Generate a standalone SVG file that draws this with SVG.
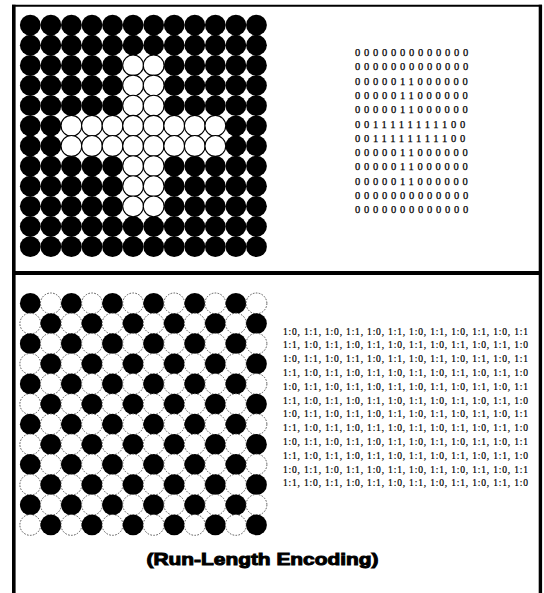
<svg xmlns="http://www.w3.org/2000/svg" xmlns:xlink="http://www.w3.org/1999/xlink" width="544" height="593" viewBox="0 0 544 593">
<style>
.frame{stroke:#000;fill:none}
.blk{fill:#000}
.wht{fill:#fff;stroke:#000;stroke-width:1.1}
.whd{fill:#fff;stroke:#555;stroke-width:1;stroke-dasharray:1.6 1.4}
.bin{font-family:"Liberation Serif","Times New Roman",serif;font-size:10.5px;letter-spacing:3.75px;fill:#000;stroke:#000;stroke-width:0.25px}
.rle{font-family:"Liberation Serif","Times New Roman",serif;font-size:9.5px;fill:#000;stroke:#000;stroke-width:0.2px}
.title{font-family:"Liberation Sans",Arial,sans-serif;font-weight:bold;font-size:17px;fill:#000;stroke:#000;stroke-width:1px}
</style>
<defs>
<circle id="cb" r="10.4" class="blk"/>
<circle id="cw" r="10.4" class="wht"/>
<circle id="cd" r="10.4" class="whd"/>
<g id="rowB">
<use href="#cb" x="0"/><use href="#cb" x="20.56"/><use href="#cb" x="41.12"/><use href="#cb" x="61.68"/><use href="#cb" x="82.24"/><use href="#cb" x="102.8"/><use href="#cb" x="123.36"/><use href="#cb" x="143.92"/><use href="#cb" x="164.48"/><use href="#cb" x="185.04"/><use href="#cb" x="205.6"/><use href="#cb" x="226.16"/>
</g>
<g id="pairW"><use href="#cw" x="0"/><use href="#cw" x="20.56"/></g>
<g id="armW">
<use href="#cw" x="0"/><use href="#cw" x="20.56"/><use href="#cw" x="41.12"/><use href="#cw" x="61.68"/><use href="#cw" x="82.24"/><use href="#cw" x="102.8"/><use href="#cw" x="123.36"/><use href="#cw" x="143.92"/>
</g>
<g id="rowA">
<use href="#cb" x="0"/><use href="#cd" x="20.56"/><use href="#cb" x="41.12"/><use href="#cd" x="61.68"/><use href="#cb" x="82.24"/><use href="#cd" x="102.8"/><use href="#cb" x="123.36"/><use href="#cd" x="143.92"/><use href="#cb" x="164.48"/><use href="#cd" x="185.04"/><use href="#cb" x="205.6"/><use href="#cd" x="226.16"/>
</g>
<g id="rowC">
<use href="#cd" x="0"/><use href="#cb" x="20.56"/><use href="#cd" x="41.12"/><use href="#cb" x="61.68"/><use href="#cd" x="82.24"/><use href="#cb" x="102.8"/><use href="#cd" x="123.36"/><use href="#cb" x="143.92"/><use href="#cd" x="164.48"/><use href="#cb" x="185.04"/><use href="#cd" x="205.6"/><use href="#cb" x="226.16"/>
</g>
</defs>
<rect width="544" height="593" fill="#fff"/>
<g id="frame" class="frame">
<line x1="12" y1="5.7" x2="542" y2="5.7" stroke-width="2"/>
<line x1="13.8" y1="4.7" x2="13.8" y2="593" stroke-width="3.6"/>
<line x1="540.4" y1="4.7" x2="540.4" y2="593" stroke-width="3.4"/>
<line x1="12" y1="273" x2="542" y2="273" stroke-width="4"/>
</g>
<g id="connectors"/>
<g id="cross-grid">
<use href="#rowB" x="30.3" y="25.1"/>
<use href="#rowB" x="30.3" y="45.24"/>
<use href="#rowB" x="30.3" y="65.38"/>
<use href="#rowB" x="30.3" y="85.52"/>
<use href="#rowB" x="30.3" y="105.66"/>
<use href="#rowB" x="30.3" y="125.8"/>
<use href="#rowB" x="30.3" y="145.94"/>
<use href="#rowB" x="30.3" y="166.08"/>
<use href="#rowB" x="30.3" y="186.22"/>
<use href="#rowB" x="30.3" y="206.36"/>
<use href="#rowB" x="30.3" y="226.5"/>
<use href="#rowB" x="30.3" y="246.64"/>
<use href="#pairW" x="133.1" y="65.38"/>
<use href="#pairW" x="133.1" y="85.52"/>
<use href="#pairW" x="133.1" y="105.66"/>
<use href="#armW" x="71.42" y="125.8"/>
<use href="#armW" x="71.42" y="145.94"/>
<use href="#pairW" x="133.1" y="166.08"/>
<use href="#pairW" x="133.1" y="186.22"/>
<use href="#pairW" x="133.1" y="206.36"/>
</g>
<g id="binary-matrix" class="bin">
<text x="355" y="56">0000000000000</text>
<text x="355" y="70.3">0000000000000</text>
<text x="355" y="84.6">0000011000000</text>
<text x="355" y="98.9">0000011000000</text>
<text x="355" y="113.2">0000011000000</text>
<text x="355" y="127.5">0011111111100</text>
<text x="355" y="141.8">0011111111100</text>
<text x="355" y="156.1">0000011000000</text>
<text x="355" y="170.4">0000011000000</text>
<text x="355" y="184.7">0000011000000</text>
<text x="355" y="199">0000000000000</text>
<text x="355" y="213.3">0000000000000</text>
</g>
<g id="checker-grid">
<use href="#rowA" x="30.3" y="303.4"/>
<use href="#rowC" x="30.3" y="323.54"/>
<use href="#rowA" x="30.3" y="343.68"/>
<use href="#rowC" x="30.3" y="363.82"/>
<use href="#rowA" x="30.3" y="383.96"/>
<use href="#rowC" x="30.3" y="404.1"/>
<use href="#rowA" x="30.3" y="424.24"/>
<use href="#rowC" x="30.3" y="444.38"/>
<use href="#rowA" x="30.3" y="464.52"/>
<use href="#rowC" x="30.3" y="484.66"/>
<use href="#rowA" x="30.3" y="504.8"/>
<use href="#rowC" x="30.3" y="524.94"/>
</g>
<g id="rle-text" class="rle">
<text x="283" y="334.5" textLength="245">1:0, 1:1, 1:0, 1:1, 1:0, 1:1, 1:0, 1:1, 1:0, 1:1, 1:0, 1:1</text>
<text x="283" y="348.3" textLength="245">1:1, 1:0, 1:1, 1:0, 1:1, 1:0, 1:1, 1:0, 1:1, 1:0, 1:1, 1:0</text>
<text x="283" y="362.1" textLength="245">1:0, 1:1, 1:0, 1:1, 1:0, 1:1, 1:0, 1:1, 1:0, 1:1, 1:0, 1:1</text>
<text x="283" y="375.9" textLength="245">1:1, 1:0, 1:1, 1:0, 1:1, 1:0, 1:1, 1:0, 1:1, 1:0, 1:1, 1:0</text>
<text x="283" y="389.7" textLength="245">1:0, 1:1, 1:0, 1:1, 1:0, 1:1, 1:0, 1:1, 1:0, 1:1, 1:0, 1:1</text>
<text x="283" y="403.5" textLength="245">1:1, 1:0, 1:1, 1:0, 1:1, 1:0, 1:1, 1:0, 1:1, 1:0, 1:1, 1:0</text>
<text x="283" y="417.3" textLength="245">1:0, 1:1, 1:0, 1:1, 1:0, 1:1, 1:0, 1:1, 1:0, 1:1, 1:0, 1:1</text>
<text x="283" y="431.1" textLength="245">1:1, 1:0, 1:1, 1:0, 1:1, 1:0, 1:1, 1:0, 1:1, 1:0, 1:1, 1:0</text>
<text x="283" y="444.9" textLength="245">1:0, 1:1, 1:0, 1:1, 1:0, 1:1, 1:0, 1:1, 1:0, 1:1, 1:0, 1:1</text>
<text x="283" y="458.7" textLength="245">1:1, 1:0, 1:1, 1:0, 1:1, 1:0, 1:1, 1:0, 1:1, 1:0, 1:1, 1:0</text>
<text x="283" y="472.5" textLength="245">1:0, 1:1, 1:0, 1:1, 1:0, 1:1, 1:0, 1:1, 1:0, 1:1, 1:0, 1:1</text>
<text x="283" y="486.3" textLength="245">1:1, 1:0, 1:1, 1:0, 1:1, 1:0, 1:1, 1:0, 1:1, 1:0, 1:1, 1:0</text>
</g>
<g id="title">
<text class="title" x="262.5" y="565" text-anchor="middle" textLength="232" lengthAdjust="spacingAndGlyphs">(Run-Length Encoding)</text>
</g>
</svg>
